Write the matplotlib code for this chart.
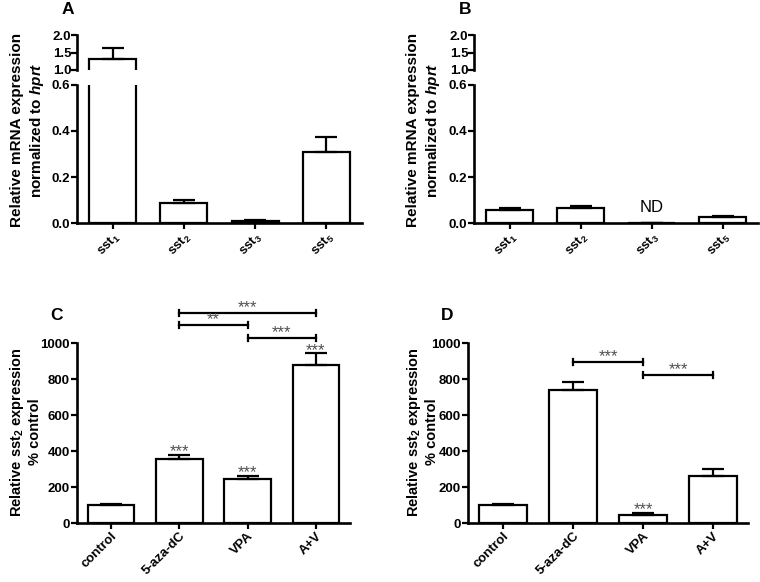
import matplotlib
matplotlib.use("Agg")
import matplotlib.pyplot as plt

plt.rcParams['font.family'] = ['Liberation Sans', 'DejaVu Sans']
plt.rcParams['font.weight'] = 'bold'
plt.rcParams['mathtext.fontset'] = 'custom'
plt.rcParams['mathtext.rm'] = 'Liberation Sans:bold'
plt.rcParams['mathtext.it'] = 'Liberation Sans:bold:italic'
plt.rcParams['mathtext.bf'] = 'Liberation Sans:bold'

# data
genes = ['sst$_1$', 'sst$_2$', 'sst$_3$', 'sst$_5$']
a_mean = [1.32, 0.086, 0.008, 0.31]
a_err = [0.31, 0.012, 0.004, 0.065]
b_mean = [0.058, 0.064, 0.0, 0.027]
b_err = [0.006, 0.008, 0.0, 0.003]

treatments = ['control', '5-aza-dC', 'VPA', 'A+V']
c_mean = [100, 356, 244, 876]
c_err = [8, 22, 17, 66]
d_mean = [102, 738, 44, 261]
d_err = [6, 46, 14, 38]

# significance: (from bar, to bar, height, label)
c_brackets = [(1, 3, 1168, '***'), (1, 2, 1100, '**'), (2, 3, 1029, '***')]
d_brackets = [(1, 2, 895, '***'), (2, 3, 823, '***')]
c_bar_stars = [1, 2, 3]
d_bar_stars = [2]

LW = 1.6
FS = 9.5      # tick labels
STAR_COLOR = '#505050'

fig = plt.figure(figsize=(7.6, 5.82), dpi=100)


def style(ax, bottom=True):
    for s in ['top', 'right']:
        ax.spines[s].set_visible(False)
    ax.spines['left'].set_linewidth(LW + 0.3)
    ax.spines['bottom'].set_linewidth(LW + 0.3)
    if not bottom:
        ax.spines['bottom'].set_visible(False)
        ax.tick_params(axis='x', bottom=False, labelbottom=False)
    ax.tick_params(width=LW, length=4, labelsize=FS, pad=1)
    for t in ax.get_yticklabels():
        t.set_fontweight('bold')


def draw_bars(ax, mean, err, width):
    x = range(len(mean))
    ax.bar(x, mean, width=width, color='white', edgecolor='black', linewidth=LW, zorder=2)
    lower = [0] * len(err)
    ax.errorbar(x, mean, yerr=[lower, err], fmt='none', ecolor='black',
                elinewidth=LW, capsize=8, capthick=LW, zorder=3)
    ax.set_xlim(-0.5, 3.5)


def broken_panel(left, right, mean, err, label, letter, lx):
    w = right - left
    low = fig.add_axes([left, 1 - 223 / 582, w, (223 - 85) / 582])
    top = fig.add_axes([left, 1 - 70 / 582, w, 35 / 582])
    for ax in (low, top):
        draw_bars(ax, mean, err, 0.66)
    low.set_ylim(0, 0.6)
    low.set_yticks([0.0, 0.2, 0.4, 0.6])
    low.set_yticklabels(['0.0', '0.2', '0.4', '0.6'])
    top.set_ylim(1.0, 2.0)
    top.set_yticks([1.0, 1.5, 2.0])
    top.set_yticklabels(['1.0', '1.5', '2.0'])
    low.set_xticks(range(len(genes)))
    low.set_xticklabels(genes, rotation=45, ha='right', rotation_mode='anchor',
                        fontsize=FS + 0.5, fontweight='bold')
    style(low)
    style(top, bottom=False)
    top.tick_params(axis='y', pad=0)
    fig.text(lx, 1 - 130 / 582, label, rotation=90, ha='center', va='center',
             multialignment='center', fontsize=11, fontweight='bold', linespacing=1.25)
    fig.text(left - 15 / 760, 1 - 10 / 582, letter, fontsize=12.5, fontweight='bold',
             ha='left', va='center')
    return low, top


def treat_panel(left, right, mean, err, brackets, bar_stars, letter, lx):
    ax = fig.add_axes([left, 1 - 523 / 582, right - left, 180 / 582])
    draw_bars(ax, mean, err, 0.68)
    ax.set_ylim(0, 1000)
    ax.set_yticks([0, 200, 400, 600, 800, 1000])
    ax.set_xticks(range(len(treatments)))
    ax.set_xticklabels(treatments, rotation=45, ha='right', rotation_mode='anchor',
                       fontsize=FS + 0.5, fontweight='bold')
    style(ax)
    for x1, x2, y, s in brackets:
        ax.plot([x1, x2], [y, y], color='black', lw=LW, clip_on=False)
        for xx in (x1, x2):
            ax.plot([xx, xx], [y - 17, y + 17], color='black', lw=LW, clip_on=False)
        ax.text((x1 + x2) / 2, y - 12, s, ha='center', va='bottom', fontsize=12,
                fontweight='normal', color=STAR_COLOR)
    for i in bar_stars:
        ax.text(i, mean[i] + err[i] - 25, '***', ha='center', va='bottom', fontsize=12,
                fontweight='normal', color=STAR_COLOR, clip_on=False)
    fig.text(lx, 1 - 432 / 582, 'Relative sst$_2$ expression\n% control', rotation=90,
             ha='center', va='center', multialignment='center', fontsize=10.5,
             fontweight='bold')
    fig.text(left - 27 / 760, 1 - 316 / 582, letter, fontsize=12.5, fontweight='bold',
             ha='left', va='center')
    return ax


ylab_ab = 'Relative mRNA expression\nnormalized to $\\mathit{hprt}$'
broken_panel(77 / 760, 362 / 760, a_mean, a_err, ylab_ab, 'A', 28 / 760)
low_b, top_b = broken_panel(474 / 760, 758 / 760, b_mean, b_err, ylab_ab, 'B', 424 / 760)
low_b.text(2, 0.035, 'ND', ha='center', va='bottom', fontsize=12, fontweight='normal')

treat_panel(77 / 760, 350 / 760, c_mean, c_err, c_brackets, c_bar_stars, 'C', 25 / 760)
treat_panel(468 / 760, 748 / 760, d_mean, d_err, d_brackets, d_bar_stars, 'D', 422 / 760)

fig.savefig('out.png', dpi=100)
